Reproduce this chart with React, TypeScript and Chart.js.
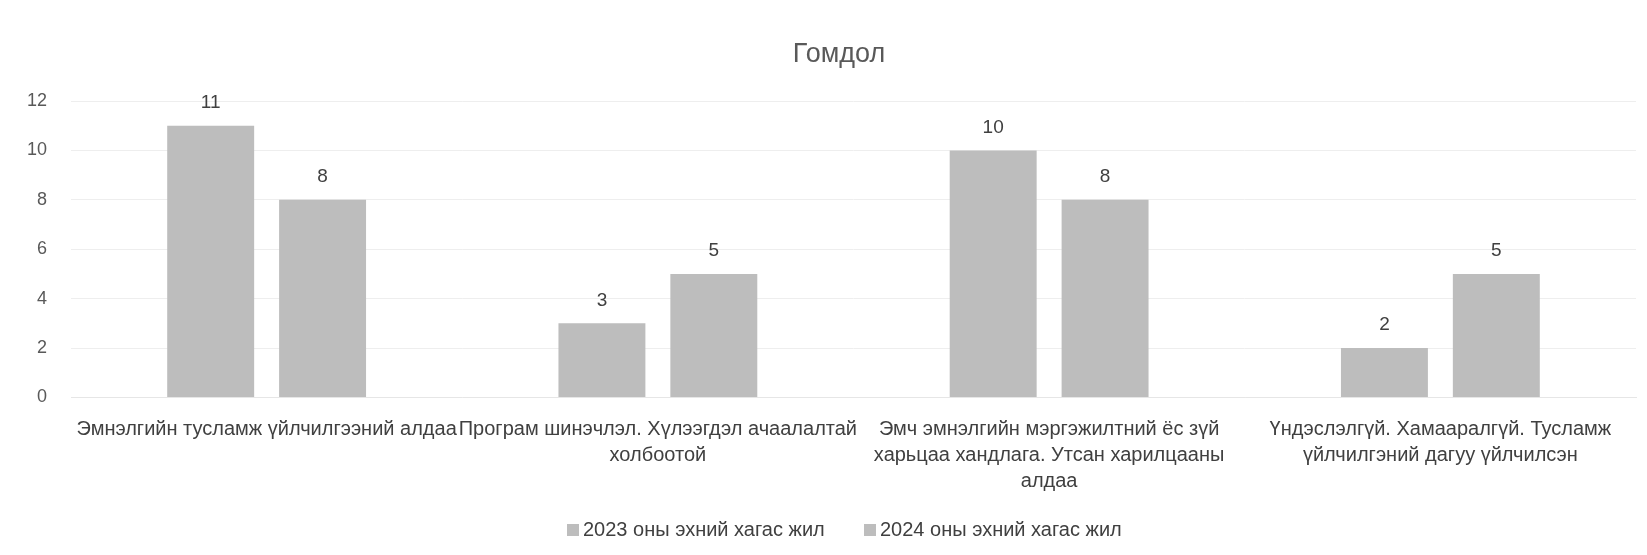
import React, { useEffect, useRef } from "react";
import { Chart, registerables } from "chart.js";

Chart.register(...registerables);

const TITLE = "Гомдол";
const categories: string[][] = [
  ["Эмнэлгийн тусламж үйлчилгээний алдаа"],
  ["Програм шинэчлэл. Хүлээгдэл ачаалалтай", "холбоотой"],
  ["Эмч эмнэлгийн мэргэжилтний ёс зүй", "харьцаа хандлага. Утсан харилцааны", "алдаа"],
  ["Үндэслэлгүй. Хамааралгүй. Тусламж", "үйлчилгэний дагуу үйлчилсэн"],
];
const series2023Label = "2023 оны эхний хагас жил";
const series2024Label = "2024 оны эхний хагас жил";
const series2023 = [11, 3, 10, 2];
const series2024 = [8, 5, 8, 5];
const yTicks = [0, 2, 4, 6, 8, 10, 12];

const FONT = "'Liberation Sans', Arial, sans-serif";
const TEXT = "#404040";
const BAR = "#bdbdbd";

const valueLabels = {
  id: "valueLabels",
  afterDatasetsDraw(chart: any) {
    const ctx = chart.ctx;
    ctx.save();
    ctx.font = `19px ${FONT}`;
    ctx.fillStyle = TEXT;
    ctx.textAlign = "center";
    ctx.textBaseline = "middle";
    chart.data.datasets.forEach((ds: any, i: number) => {
      const meta = chart.getDatasetMeta(i);
      meta.data.forEach((el: any, j: number) => {
        ctx.fillText(String(ds.data[j]), el.x, el.y - 23);
      });
    });
    ctx.restore();
  },
};

const titlePlugin = {
  id: "offsetTitle",
  afterDraw(chart: any) {
    const ctx = chart.ctx;
    ctx.save();
    ctx.font = `27px ${FONT}`;
    ctx.fillStyle = "#595959";
    ctx.textAlign = "center";
    ctx.textBaseline = "middle";
    ctx.fillText(TITLE, 839, 55);
    ctx.restore();
  },
};

const legendPlugin = {
  id: "customLegend",
  afterDraw(chart: any) {
    const ctx = chart.ctx;
    ctx.save();
    ctx.font = `20px ${FONT}`;
    ctx.textBaseline = "middle";
    ctx.textAlign = "left";
    const starts = [567, 864];
    const y = 530;
    chart.data.datasets.forEach((ds: any, i: number) => {
      const x = starts[i];
      ctx.fillStyle = ds.backgroundColor;
      ctx.fillRect(x, y - 6, 12, 12);
      ctx.fillStyle = TEXT;
      ctx.fillText(ds.label, x + 16, y);
    });
    ctx.restore();
  },
};

export default function App() {
  const ref = useRef<HTMLCanvasElement | null>(null);
  useEffect(() => {
    if (!ref.current) return;
    const chart = new Chart(ref.current, {
      type: "bar",
      data: {
        labels: categories,
        datasets: [
          { label: series2023Label, data: series2023, backgroundColor: BAR, categoryPercentage: 0.572, barPercentage: 0.777 },
          { label: series2024Label, data: series2024, backgroundColor: BAR, categoryPercentage: 0.572, barPercentage: 0.777 },
        ],
      },
      options: {
        animation: false,
        responsive: false,
        maintainAspectRatio: false,
        layout: { padding: { left: 0, right: 11, top: 101, bottom: 49 } },
        plugins: {
          title: { display: false },
          legend: { display: false },
          tooltip: { enabled: false },
        },
        scales: {
          x: {
            grid: { display: false },
            border: { color: "#e6e6e6" },
            ticks: {
              color: TEXT,
              font: { family: FONT, size: 20, lineHeight: 1.31 },
              maxRotation: 0,
              autoSkip: false,
              padding: 11,
            },
          },
          y: {
            min: 0,
            max: 12,
            afterBuildTicks: (scale: any) => {
              scale.ticks = yTicks.map((v) => ({ value: v }));
            },
            afterFit: (scale: any) => {
              scale.width = 71;
            },
            grid: { color: "#eeeeee", drawTicks: false },
            border: { display: false },
            ticks: {
              color: "#595959",
              font: { family: FONT, size: 18 },
              padding: 24,
            },
          },
        },
      },
      plugins: [valueLabels, titlePlugin, legendPlugin],
    });
    return () => chart.destroy();
  }, []);
  return (
    <div style={{ position: "fixed", left: 0, top: 0, width: 1647, height: 555, background: "#fff" }}>
      <canvas ref={ref} width={1647} height={555} style={{ width: 1647, height: 555 }} />
    </div>
  );
}
